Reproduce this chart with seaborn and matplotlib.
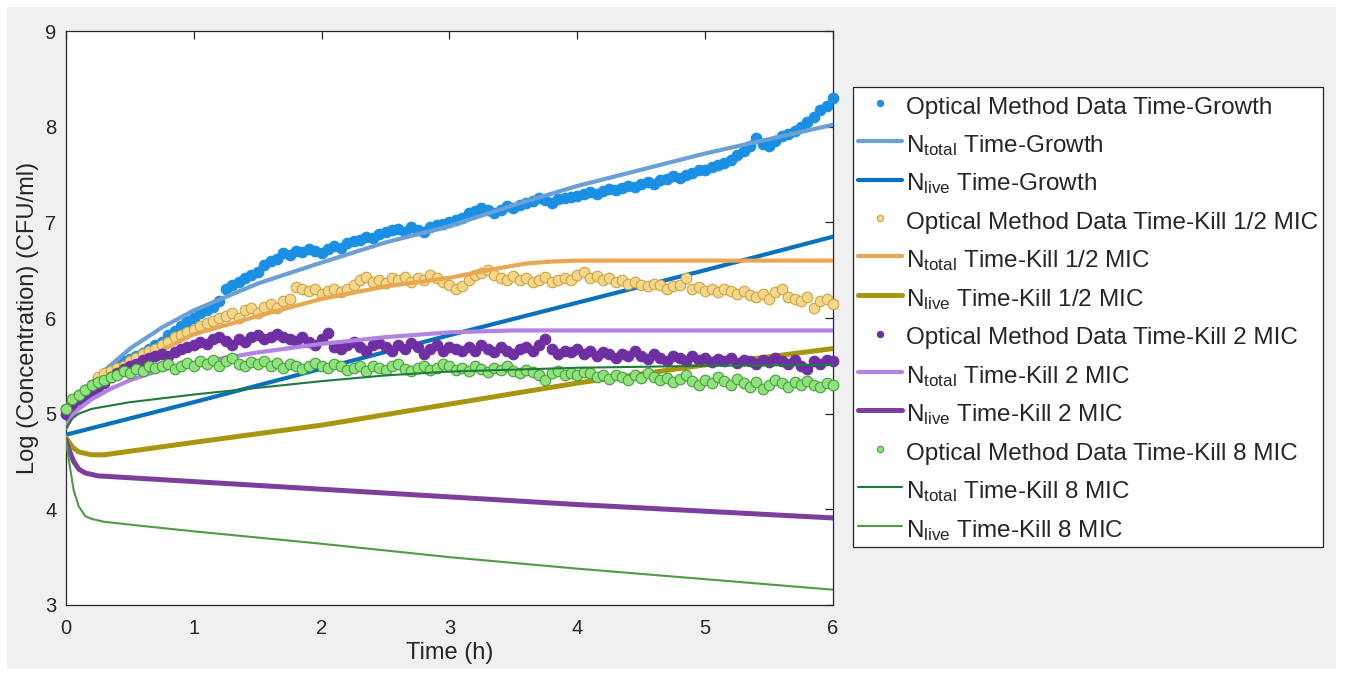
import numpy as np
import pandas as pd
import matplotlib
matplotlib.use("Agg")
import matplotlib.pyplot as plt
from matplotlib.lines import Line2D
from matplotlib.patches import Rectangle
import seaborn as sns

# ---------------- data ----------------
t_data = np.linspace(0, 6, 121)  # sampling times (h)

growth_data = [5.05, 5.12, 5.2, 5.25, 5.3, 5.36, 5.4, 5.47, 5.5, 5.55,
               5.57, 5.6, 5.63, 5.68, 5.72, 5.75, 5.82, 5.86, 5.92, 5.97,
               6.0, 6.05, 6.08, 6.12, 6.18, 6.3, 6.35, 6.38, 6.42, 6.45,
               6.48, 6.55, 6.6, 6.62, 6.68, 6.66, 6.7, 6.69, 6.72, 6.7,
               6.68, 6.72, 6.75, 6.73, 6.78, 6.8, 6.82, 6.85, 6.84, 6.88,
               6.9, 6.92, 6.93, 6.9, 6.95, 6.92, 6.9, 6.95, 6.97, 6.98,
               7.0, 7.02, 7.05, 7.1, 7.12, 7.15, 7.13, 7.1, 7.13, 7.17,
               7.15, 7.18, 7.2, 7.22, 7.25, 7.23, 7.2, 7.24, 7.25, 7.27,
               7.28, 7.3, 7.32, 7.3, 7.33, 7.35, 7.34, 7.36, 7.38, 7.37,
               7.4, 7.42, 7.4, 7.44, 7.45, 7.48, 7.46, 7.5, 7.52, 7.55,
               7.55, 7.58, 7.6, 7.62, 7.65, 7.7, 7.75, 7.8, 7.88, 7.82,
               7.8, 7.85, 7.9, 7.92, 7.95, 8.0, 8.05, 8.1, 8.17, 8.22,
               8.3]

half_mic_data = [5.05, 5.12, 5.2, 5.25, 5.3, 5.38, 5.42, 5.45, 5.48, 5.5,
                 5.55, 5.58, 5.62, 5.65, 5.68, 5.72, 5.75, 5.8, 5.82, 5.85,
                 5.87, 5.92, 5.95, 5.97, 6.0, 6.02, 6.05, 6.0, 6.08, 6.1,
                 6.05, 6.12, 6.15, 6.1, 6.18, 6.2, 6.32, 6.3, 6.28, 6.3,
                 6.25, 6.28, 6.3, 6.27, 6.3, 6.35, 6.4, 6.43, 6.38, 6.4,
                 6.37, 6.42, 6.4, 6.43, 6.38, 6.42, 6.4, 6.45, 6.42, 6.38,
                 6.35, 6.3, 6.33, 6.4, 6.45, 6.47, 6.5, 6.45, 6.42, 6.4,
                 6.44, 6.4, 6.42, 6.38, 6.4, 6.43, 6.38, 6.4, 6.42, 6.4,
                 6.45, 6.48, 6.42, 6.44, 6.4, 6.42, 6.38, 6.4, 6.36, 6.38,
                 6.35, 6.33, 6.36, 6.34, 6.3, 6.33, 6.35, 6.42, 6.3, 6.32,
                 6.28, 6.3, 6.27, 6.3, 6.28, 6.25, 6.28, 6.24, 6.22, 6.25,
                 6.2, 6.27, 6.3, 6.22, 6.2, 6.18, 6.22, 6.1, 6.18, 6.2,
                 6.15]

two_mic_data = [5.0, 5.08, 5.15, 5.18, 5.22, 5.28, 5.32, 5.38, 5.42, 5.47,
                5.5, 5.52, 5.56, 5.58, 5.6, 5.62, 5.6, 5.64, 5.68, 5.7,
                5.72, 5.75, 5.73, 5.78, 5.8, 5.76, 5.72, 5.78, 5.75, 5.8,
                5.82, 5.78, 5.8, 5.83, 5.8, 5.78, 5.76, 5.8, 5.75, 5.72,
                5.78, 5.84, 5.7, 5.68, 5.72, 5.75, 5.7, 5.65, 5.72, 5.74,
                5.7, 5.66, 5.72, 5.68, 5.74, 5.7, 5.62, 5.68, 5.72, 5.66,
                5.7, 5.68, 5.65, 5.7, 5.66, 5.72, 5.68, 5.64, 5.7, 5.66,
                5.62, 5.68, 5.7, 5.65, 5.72, 5.78, 5.68, 5.62, 5.66, 5.64,
                5.68, 5.62, 5.66, 5.6, 5.64, 5.62, 5.58, 5.62, 5.6, 5.66,
                5.6, 5.57, 5.62, 5.58, 5.55, 5.6, 5.58, 5.55, 5.6, 5.56,
                5.58, 5.54, 5.57, 5.55, 5.58, 5.53, 5.56, 5.55, 5.52, 5.56,
                5.54, 5.58, 5.55, 5.52, 5.56, 5.5, 5.47, 5.55, 5.52, 5.56,
                5.55]

eight_mic_data = [5.05, 5.15, 5.2, 5.25, 5.3, 5.33, 5.35, 5.38, 5.4, 5.45,
                  5.42, 5.47, 5.45, 5.5, 5.48, 5.5, 5.52, 5.47, 5.5, 5.53,
                  5.5, 5.55, 5.52, 5.56, 5.5, 5.55, 5.58, 5.52, 5.5, 5.54,
                  5.52, 5.55, 5.5, 5.53, 5.48, 5.52, 5.5, 5.47, 5.5, 5.53,
                  5.5, 5.48, 5.52, 5.5, 5.46, 5.48, 5.5, 5.45, 5.5, 5.48,
                  5.46, 5.5, 5.52, 5.47, 5.45, 5.48, 5.5, 5.46, 5.48, 5.52,
                  5.5, 5.46, 5.48, 5.45, 5.5, 5.47, 5.44, 5.48, 5.46, 5.5,
                  5.45, 5.42, 5.46, 5.44, 5.4, 5.35, 5.42, 5.45, 5.4, 5.43,
                  5.4, 5.44, 5.42, 5.38, 5.4, 5.36, 5.4, 5.38, 5.35, 5.4,
                  5.37, 5.42, 5.38, 5.35, 5.37, 5.33, 5.36, 5.4, 5.34, 5.3,
                  5.35, 5.32, 5.38, 5.34, 5.3, 5.36, 5.32, 5.28, 5.33, 5.26,
                  5.3, 5.35, 5.32, 5.28, 5.33, 5.3, 5.34, 5.3, 5.28, 5.32,
                  5.3]

# model curves
t_tot_g = [0, 0.05, 0.1, 0.2, 0.3, 0.5, 0.75, 1, 1.5, 2, 2.5, 3, 3.5, 4, 4.5, 5, 5.5, 6]
n_tot_g = [4.85, 5.02, 5.12, 5.3, 5.45, 5.68, 5.9, 6.08, 6.36, 6.58, 6.79, 6.96, 7.18, 7.38, 7.55, 7.72, 7.87, 8.02]

t_live_g = [0, 1, 2, 3, 4, 5, 6]
n_live_g = [4.78, 5.12, 5.47, 5.82, 6.16, 6.5, 6.85]

t_tot_h = [0, 0.05, 0.1, 0.25, 0.5, 1, 1.5, 2, 2.5, 3, 3.3, 3.6, 3.8, 4, 6]
n_tot_h = [4.85, 5.0, 5.1, 5.3, 5.5, 5.83, 6.02, 6.2, 6.33, 6.42, 6.5, 6.57, 6.59, 6.6, 6.6]

t_live_h = [0, 0.05, 0.1, 0.2, 0.3, 1, 2, 3, 4, 5, 6]
n_live_h = [4.75, 4.65, 4.6, 4.57, 4.57, 4.7, 4.88, 5.1, 5.32, 5.51, 5.68]

t_tot_2 = [0, 0.05, 0.1, 0.2, 0.35, 0.5, 0.75, 1, 1.5, 2, 2.5, 3, 3.5, 6]
n_tot_2 = [4.85, 4.98, 5.05, 5.15, 5.26, 5.35, 5.46, 5.53, 5.64, 5.73, 5.8, 5.85, 5.87, 5.87]

t_live_2 = [0, 0.03, 0.06, 0.1, 0.15, 0.25, 0.5, 1, 2, 3, 4, 5, 6]
n_live_2 = [4.72, 4.6, 4.5, 4.42, 4.38, 4.35, 4.33, 4.29, 4.21, 4.13, 4.05, 3.98, 3.91]

t_tot_8 = [0, 0.05, 0.1, 0.2, 0.5, 1, 1.5, 2, 2.5, 3, 4, 5, 6]
n_tot_8 = [4.85, 4.95, 5.0, 5.05, 5.12, 5.2, 5.27, 5.34, 5.4, 5.44, 5.48, 5.5, 5.51]

t_live_8 = [0, 0.03, 0.06, 0.1, 0.15, 0.2, 0.3, 0.5, 1, 2, 3, 4, 5, 6]
n_live_8 = [4.72, 4.45, 4.2, 4.03, 3.93, 3.9, 3.87, 3.84, 3.77, 3.64, 3.5, 3.38, 3.27, 3.16]

labels = ["Optical Method Data Time-Growth",
          r"N$_{\rm total}$ Time-Growth",
          r"N$_{\rm live}$ Time-Growth",
          "Optical Method Data Time-Kill 1/2 MIC",
          r"N$_{\rm total}$ Time-Kill 1/2 MIC",
          r"N$_{\rm live}$ Time-Kill 1/2 MIC",
          "Optical Method Data Time-Kill 2 MIC",
          r"N$_{\rm total}$ Time-Kill 2 MIC",
          r"N$_{\rm live}$ Time-Kill 2 MIC",
          "Optical Method Data Time-Kill 8 MIC",
          r"N$_{\rm total}$ Time-Kill 8 MIC",
          r"N$_{\rm live}$ Time-Kill 8 MIC"]

# ---------------- style ----------------
sns.set_style("white")
plt.rcParams["font.family"] = ["Liberation Sans", "DejaVu Sans"]
plt.rcParams["mathtext.fontset"] = "custom"
plt.rcParams["mathtext.rm"] = "Liberation Sans"
plt.rcParams["mathtext.it"] = "Liberation Sans:italic"
plt.rcParams["mathtext.bf"] = "Liberation Sans:bold"

DARK = "#262626"

fig = plt.figure(figsize=(13.45, 6.75), dpi=100, facecolor="white")
fig.patches.append(Rectangle((7 / 1345, 1 - 669 / 675), 1329 / 1345, 662 / 675,
                             transform=fig.transFigure, facecolor="#f0f0f0",
                             edgecolor="none", zorder=-10))
ax = fig.add_axes([66 / 1345, 1 - 605 / 675, 767 / 1345, 574 / 675])
ax.set_facecolor("white")

MS = 58  # scatter size

handles = []

def scat(vals, face, edge):
    df = pd.DataFrame({"t": t_data, "v": vals})
    sns.scatterplot(data=df, x="t", y="v", ax=ax, s=MS, color=face,
                    edgecolor=edge, linewidth=0.8, legend=False, zorder=3,
                    clip_on=False)
    handles.append(Line2D([], [], linestyle="none", marker="o", markersize=4.5,
                          markerfacecolor=face, markeredgecolor=edge,
                          markeredgewidth=0.8))

def line(tt, vv, color, lw):
    df = pd.DataFrame({"t": tt, "v": vv})
    sns.lineplot(data=df, x="t", y="v", ax=ax, color=color, linewidth=lw,
                 estimator=None, sort=False, legend=False, zorder=3)
    handles.append(Line2D([], [], color=color, linewidth=lw))

scat(growth_data, "#1a8fe3", "#1a8fe3")
line(t_tot_g, n_tot_g, "#6b9fd6", 3.0)
line(t_live_g, n_live_g, "#0a70c0", 3.0)
scat(half_mic_data, "#f5d68c", "#c9a640")
line(t_tot_h, n_tot_h, "#e9a653", 3.0)
line(t_live_h, n_live_h, "#a8960f", 3.6)
scat(two_mic_data, "#6e2fa3", "#6e2fa3")
line(t_tot_2, n_tot_2, "#b383e3", 3.0)
line(t_live_2, n_live_2, "#7d3e9e", 3.6)
scat(eight_mic_data, "#8fe27c", "#4a9e3c")
line(t_tot_8, n_tot_8, "#1f7a3c", 1.5)
line(t_live_8, n_live_8, "#4f9a44", 1.5)

# ---------------- axes ----------------
ax.set_xlim(0, 6)
ax.set_ylim(3, 9)
ax.set_xticks([0, 1, 2, 3, 4, 5, 6])
ax.set_yticks([3, 4, 5, 6, 7, 8, 9])
ax.tick_params(axis="both", direction="in", length=6, width=0.9, color=DARK,
               labelcolor=DARK, labelsize=14.5, top=True, right=True,
               labeltop=False, labelright=False)
ax.tick_params(axis="x", pad=10)
ax.tick_params(axis="y", pad=7)
for sp in ax.spines.values():
    sp.set_visible(True)
    sp.set_color(DARK)
    sp.set_linewidth(0.9)
ax.set_xlabel("Time (h)", fontsize=17, color=DARK, labelpad=3)
ax.set_ylabel("Log (Concentration) (CFU/ml)", fontsize=17, color=DARK, labelpad=4)

leg = fig.legend(handles, labels, loc="upper left",
                 bbox_to_anchor=(853 / 1345, 1 - 87 / 675),
                 bbox_transform=fig.transFigure,
                 fontsize=17.5, frameon=True, fancybox=False,
                 edgecolor=DARK, facecolor="white", framealpha=1,
                 handlelength=1.8, handletextpad=0.2, handleheight=1.35,
                 labelspacing=0.45, borderpad=0.2, borderaxespad=0)
leg.get_frame().set_linewidth(0.9)
for txt in leg.get_texts():
    txt.set_color(DARK)

fig.savefig("out.png", dpi=100, facecolor="white")
